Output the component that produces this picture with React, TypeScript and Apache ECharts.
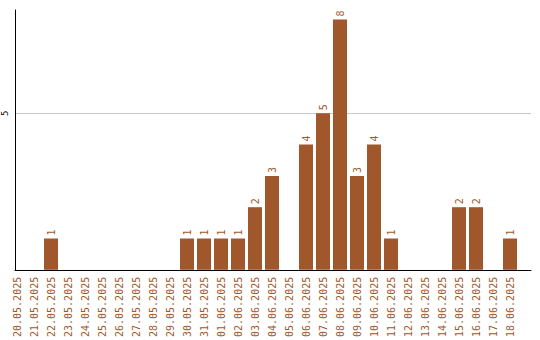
import React, { useEffect, useRef } from "react";
import * as echarts from "echarts";

const categories = [
  "20.05.2025", "21.05.2025", "22.05.2025", "23.05.2025", "24.05.2025",
  "25.05.2025", "26.05.2025", "27.05.2025", "28.05.2025", "29.05.2025",
  "30.05.2025", "31.05.2025", "01.06.2025", "02.06.2025", "03.06.2025",
  "04.06.2025", "05.06.2025", "06.06.2025", "07.06.2025", "08.06.2025",
  "09.06.2025", "10.06.2025", "11.06.2025", "12.06.2025", "13.06.2025",
  "14.06.2025", "15.06.2025", "16.06.2025", "17.06.2025", "18.06.2025",
];
const values = [0, 0, 1, 0, 0, 0, 0, 0, 0, 0, 1, 1, 1, 1, 2, 3, 0, 4, 5, 8, 3, 4, 1, 0, 0, 0, 2, 2, 0, 1];
const yMin = 0;
const yMax = 8.3;
const yInterval = 5;

const BROWN = "#A0572B";
const FONT = "DejaVu Sans Mono";

export default function App() {
  const ref = useRef<HTMLDivElement>(null);
  useEffect(() => {
    if (!ref.current) return;
    const chart = echarts.init(ref.current, undefined, { renderer: "svg" });
    chart.setOption({
      animation: false,
      backgroundColor: "#fff",
      grid: [
        { left: 11, right: 9, top: 10, bottom: 70 },
        { left: 8.5, width: 510, top: 10, bottom: 70 },
      ],
      xAxis: [
        {
          gridIndex: 0,
          type: "category",
          data: categories,
          axisLine: { show: true, lineStyle: { color: "#000", width: 1 } },
          axisTick: { show: false },
          axisLabel: { show: false },
          splitLine: { show: false },
        },
        {
          gridIndex: 1,
          type: "category",
          data: categories,
          axisLine: { show: false },
          axisTick: { show: false },
          axisLabel: {
            show: true,
            interval: 0,
            rotate: 90,
            margin: 7,
            color: BROWN,
            fontFamily: FONT,
            fontSize: 10,
          },
        },
      ],
      yAxis: [
        {
          gridIndex: 0,
          type: "value",
          min: yMin,
          max: yMax,
          interval: yInterval,
          axisLine: { show: true, lineStyle: { color: "#000", width: 1 } },
          axisTick: { show: false },
          splitLine: {
            show: true,
            showMinLine: false,
            showMaxLine: false,
            lineStyle: { color: "#c8c8c8", width: 1 },
          },
          axisLabel: {
            show: true,
            rotate: 90,
            margin: 6,
            color: "#000",
            fontFamily: FONT,
            fontSize: 9,
            showMinLabel: false,
            showMaxLabel: false,
            formatter: (v: number) => (v === 0 ? "" : String(v)),
          },
        },
        {
          gridIndex: 1,
          type: "value",
          min: yMin,
          max: yMax,
          interval: yInterval,
          show: false,
          splitLine: { show: false },
        },
      ],
      series: [
        {
          type: "bar",
          xAxisIndex: 1,
          yAxisIndex: 1,
          data: values,
          barWidth: 14,
          itemStyle: { color: BROWN },
          label: {
            show: true,
            position: "top",
            rotate: 90,
            align: "left",
            verticalAlign: "middle",
            distance: 3,
            color: BROWN,
            fontFamily: FONT,
            fontSize: 10,
            formatter: (p: any) => (p.value ? String(p.value) : ""),
          },
        },
      ],
    });
    return () => chart.dispose();
  }, []);
  return (
    <div
      ref={ref}
      style={{ position: "fixed", left: 0, top: 0, width: 540, height: 340 }}
    />
  );
}
